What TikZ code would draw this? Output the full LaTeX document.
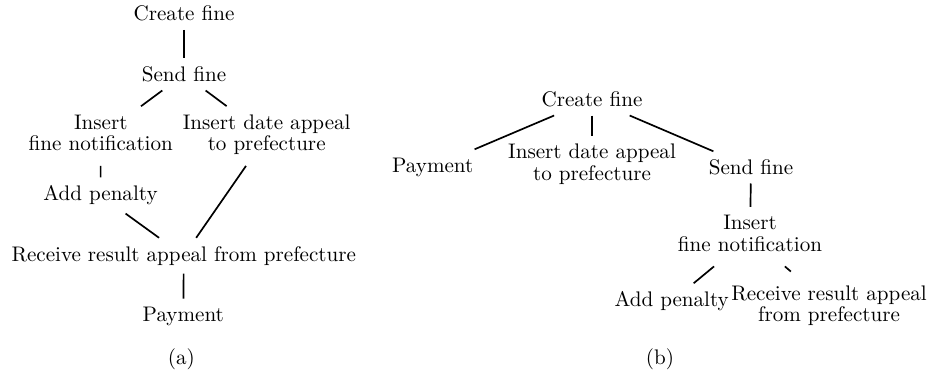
\documentclass[tikz,border=0pt]{standalone}
\usepackage{tikz}
\newcommand{\lowstrut}{\rule[-3.2pt]{0pt}{3.2pt}}
\newcommand{\highstrut}{\rule{0pt}{9.5pt}}

\begin{document}
\begin{tikzpicture}[
  font=\fontsize{10pt}{10.2pt}\selectfont,
  step node/.style={inner sep=4pt, outer sep=0pt, align=center},
  edge/.style={line width=0.8pt}
]
  \useasboundingbox (0,0) rectangle (15.533,6.217);
  % (a)
  \node[step node] (cfa) at (3.067,5.988) {Create fine};
  \node[step node] (sfa) at (3.067,4.977) {Send fine};
  \node[step node] (nfa) at (1.680,3.950) {Insert\\ fine notification\lowstrut};
  \node[step node] (dpa) at (4.445,3.950) {Insert date appeal\\ to prefecture\lowstrut};
  \node[step node] (apa) at (1.675,2.960) {Add penalty};
  \node[step node] (rra) at (3.063,1.955) {Receive result appeal from prefecture};
  \node[step node] (pya) at (3.055,0.942) {Payment};
  \node (capa) at (3.022,0.225) {(a)};
  \draw[edge] (cfa) -- (sfa);
  \draw[edge] (sfa) -- (nfa);
  \draw[edge] (sfa) -- (dpa);
  \draw[edge] (nfa) -- (apa);
  \draw[edge] (apa) -- (rra);
  \draw[edge] (dpa) -- (rra);
  \draw[edge] (rra) -- (pya);
  % (b)
  \node[step node] (cfb) at (9.867,4.560) {Create fine};
  \node[step node] (pyb) at (7.212,3.432) {Payment};
  \node[step node] (dpb) at (9.867,3.458) {Insert date appeal\\ to prefecture\lowstrut};
  \node[step node] (sfb) at (12.517,3.427) {Send fine};
  \node[step node] (nfb) at (12.500,2.273) {Insert\\ fine notification\lowstrut};
  \node[step node] (apb) at (11.195,1.193) {Add penalty};
  \node[step node] (rrb) at (13.817,1.148) {\highstrut Receive result appeal\\ from prefecture\lowstrut};
  \node (capb) at (11.000,0.225) {(b)};
  \draw[edge] (cfb) -- (pyb);
  \draw[edge] (cfb) -- (dpb);
  \draw[edge] (cfb) -- (sfb);
  \draw[edge] (sfb) -- (nfb);
  \draw[edge] (nfb) -- (apb);
  \draw[edge] (nfb) -- (rrb);
\end{tikzpicture}
\end{document}
